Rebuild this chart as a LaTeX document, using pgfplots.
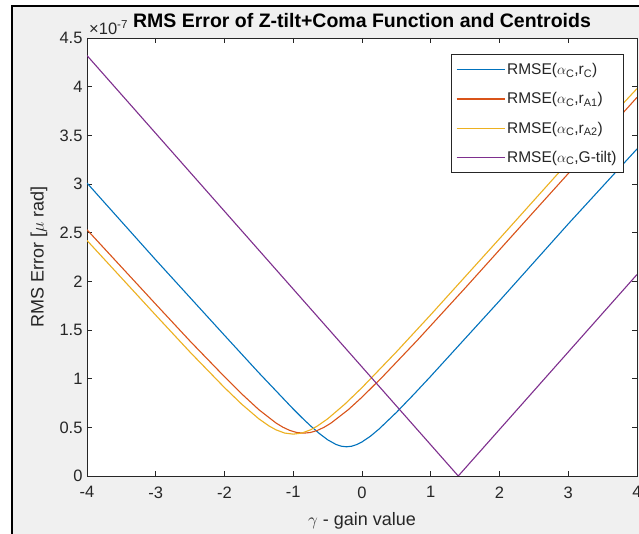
\documentclass[border=0pt]{standalone}
\usepackage{fontspec}
\setmainfont{Liberation Sans}
\usepackage{pgfplots}
\pgfplotsset{compat=1.18}

\definecolor{mBlue}{rgb}{0,0.447,0.741}
\definecolor{mOrange}{rgb}{0.85,0.325,0.098}
\definecolor{mYellow}{rgb}{0.929,0.694,0.125}
\definecolor{mPurple}{rgb}{0.494,0.184,0.556}
\definecolor{figbg}{RGB}{240,240,240}
\definecolor{axcol}{RGB}{38,38,38}

\newcommand{\tickfont}{\fontsize{16.5}{19}\selectfont}
\newcommand{\labelfont}{\fontsize{18}{21}\selectfont}
\newcommand{\legfont}{\fontsize{15.5}{18}\selectfont}

\begin{document}
\begin{tikzpicture}[x=1pt,y=1pt]
\useasboundingbox (0,0) rectangle (639,534);
% figure window background and frame
\fill[white] (0,0) rectangle (639,534);
\fill[figbg] (12,0) rectangle (639,528);
\draw[black,line width=2pt] (12,-2) -- (12,528) -- (641,528);
\begin{axis}[
  at={(87pt,58pt)}, anchor=south west,
  width=550pt, height=438pt, scale only axis,
  xmin=-4, xmax=4, ymin=0, ymax=4.5,
  xtick={-4,-3,-2,-1,0,1,2,3,4},
  ytick={0,0.5,1,1.5,2,2.5,3,3.5,4,4.5},
  /pgf/number format/assume math mode=true,
  tick label style={font=\tickfont, text=axcol},
  xticklabel style={yshift=-7pt},
  yticklabel style={xshift=-1pt},
  axis background/.style={fill=white},
  axis line style={axcol, line width=0.8pt},
  tick style={axcol, line width=0.8pt},
  major tick length=5pt, tick align=inside,
  title={RMS Error of Z-tilt+Coma Function and Centroids},
  title style={font=\bfseries\fontsize{19.5}{22}\selectfont, at={(0.5,1)}, anchor=base, yshift=4pt},
  xlabel={$\gamma$ - gain value},
  xlabel style={font=\labelfont, text=axcol, at={(0.5,0)}, anchor=center, yshift=-45pt},
  ylabel={RMS Error [$\mu$ rad]},
  ylabel style={font=\labelfont, text=axcol, at={([xshift=-48pt]axis description cs:0,0.5)}, anchor=center},
  legend cell align=left,
  legend image code/.code={\draw[#1, line width=1.1pt] (0pt,0pt) -- (48pt,0pt);},
  legend style={at={(0.9764,0.9635)}, anchor=north east, draw=axcol, line width=0.8pt,
    fill=white, font=\legfont, text=axcol, row sep=12.5pt, inner xsep=5pt, inner ysep=7pt},
  every axis plot/.append style={line width=1.1pt},
  clip mode=individual,
]
\addplot[mBlue] coordinates {
  (-4,3.01) (-3,2.22) (-2,1.445) (-1.5,1.06) (-1,0.688) (-0.875,0.600)
  (-0.75,0.516) (-0.625,0.439) (-0.5,0.372) (-0.375,0.323) (-0.3,0.306)
  (-0.225,0.300) (-0.15,0.306) (-0.075,0.323) (0,0.350) (0.125,0.410)
  (0.25,0.484) (0.5,0.653) (0.75,0.836) (1,1.025) (2,1.80) (3,2.59) (4,3.36)
};
\addlegendentry{RMSE($\alpha$\textsubscript{C},r\textsubscript{C})}
\addplot[mOrange] coordinates {
  (-4,2.53) (-3,1.765) (-2.5,1.385) (-2,1.020) (-1.75,0.844) (-1.5,0.681)
  (-1.25,0.544) (-1.15,0.501) (-1.05,0.468) (-0.95,0.447) (-0.85,0.440)
  (-0.75,0.447) (-0.65,0.468) (-0.55,0.501) (-0.45,0.544) (-0.2,0.681)
  (0,0.810) (0.3,1.020) (0.8,1.391) (1.5,1.931) (2.5,2.716) (4,3.89)
};
\addlegendentry{RMSE($\alpha$\textsubscript{C},r\textsubscript{A1})}
\addplot[mYellow] coordinates {
  (-4,2.42) (-3,1.652) (-2.5,1.272) (-2,0.908) (-1.75,0.738) (-1.5,0.587)
  (-1.35,0.513) (-1.25,0.474) (-1.125,0.441) (-1,0.430) (-0.875,0.441)
  (-0.75,0.474) (-0.65,0.513) (-0.5,0.587) (-0.25,0.738) (0,0.908)
  (0.5,1.275) (1,1.657) (2,2.438) (3,3.225) (4,3.98)
};
\addlegendentry{RMSE($\alpha$\textsubscript{C},r\textsubscript{A2})}
\addplot[mPurple] coordinates {
  (-4,4.32) (1.4,0) (4,2.07)
};
\addlegendentry{RMSE($\alpha$\textsubscript{C},G-tilt)}
\node[anchor=base west, font=\tickfont, text=axcol, inner sep=0pt]
  at ([xshift=2pt,yshift=3pt]rel axis cs:0,1) {×10\textsuperscript{-7}};
\end{axis}
\end{tikzpicture}
\end{document}
